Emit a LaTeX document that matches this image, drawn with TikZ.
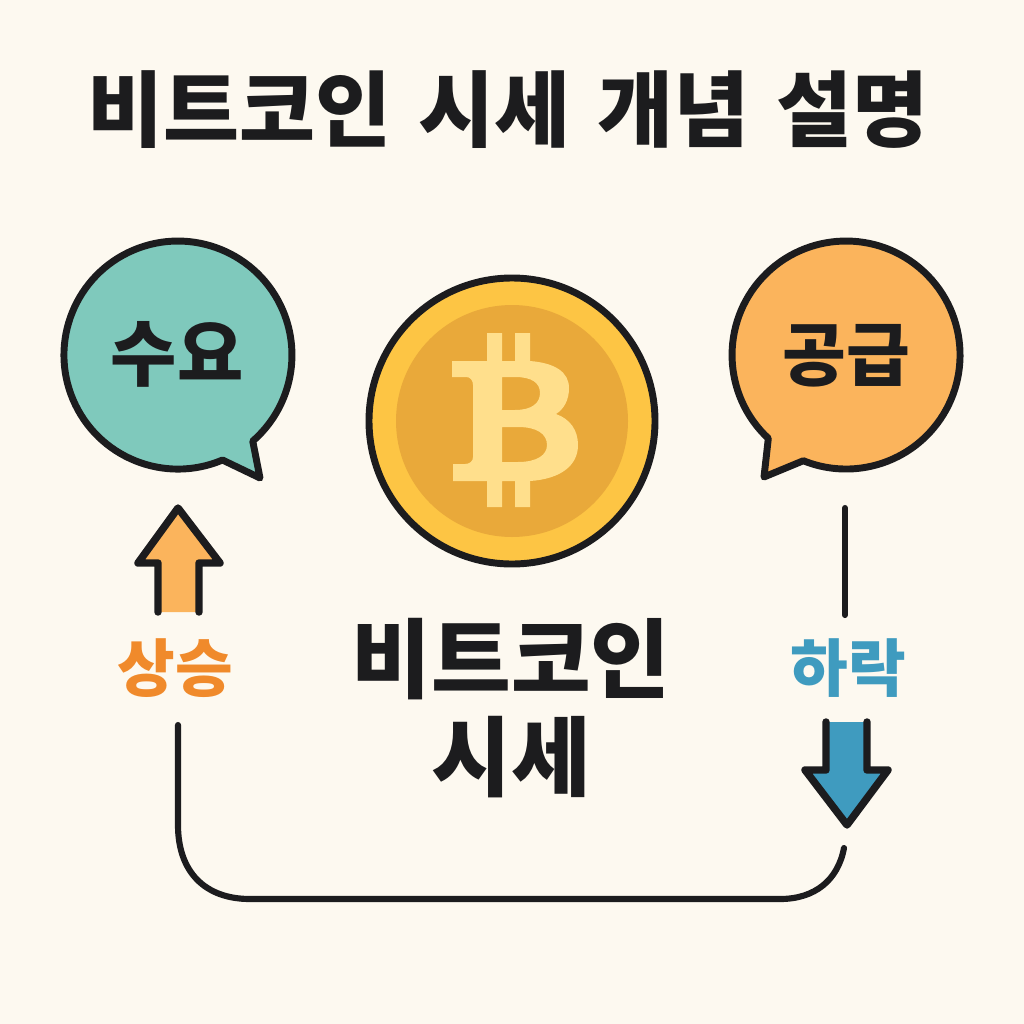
\documentclass[tikz,border=0pt]{standalone}
\usepackage{fontspec}
\setmainfont{Noto Sans CJK KR}[BoldFont={Noto Sans CJK KR Black}]
\definecolor{bgc}{HTML}{FDF9F0}
\definecolor{ink}{HTML}{1C1C1E}
\definecolor{teal}{HTML}{7FC9BC}
\definecolor{orng}{HTML}{FBB45C}
\definecolor{goldo}{HTML}{FDC544}
\definecolor{goldi}{HTML}{E9A93A}
\definecolor{btc}{HTML}{FFDF8C}
\definecolor{upc}{HTML}{F08A2B}
\definecolor{dnc}{HTML}{3F9BBF}
\tikzset{
  txt/.style={text=ink,inner sep=0pt,align=center},
  outline/.style={draw=ink,line width=5.2pt,line cap=round,line join=round},
  arrowline/.style={draw=ink,line width=5.6pt,line cap=round,line join=round},
  link/.style={draw=ink,line width=4.6pt,line cap=round},
}
\newcommand{\ko}[1]{\fontsize{#1}{#1}\selectfont\bfseries}
\begin{document}
\begin{tikzpicture}[x=0.75pt,y=-0.75pt]
\path[fill=bgc] (0,0) rectangle (1024,1024);
\useasboundingbox (0,0) rectangle (1024,1024);
% title
\node[txt,font=\ko{62}] (title) at (508,110) {비트코인\hspace{6pt} 시세\hspace{6pt} 개념\hspace{6pt} 설명};
% left bubble
\path[outline,fill=teal] (222.5,460) arc[start angle=67,end angle=409,radius=114] -- (260,478) -- cycle;
\node[txt,font=\ko{54}] (demand) at (177,354) {수요};
% right bubble
\path[outline,fill=orng] (768.3,438.4) arc[start angle=133,end angle=472,radius=114] -- (764,477) -- cycle;
\node[txt,font=\ko{52}] (supply) at (846,356) {공급};
% coin
\path[outline,fill=goldo] (512,421) circle[radius=143];
\path[fill=goldi] (512,421) circle[radius=116];
\path[fill=btc,even odd rule]
  (452,361) -- (487,361) -- (487,333) -- (502,333) -- (502,361) -- (515,361) -- (515,333) -- (530,333) -- (530,361)
  .. controls (555,363) and (569,372) .. (569,388)
  .. controls (569,400) and (564,409) .. (556,414)
  .. controls (570,419) and (578,430) .. (578,445)
  .. controls (578,466) and (560,479) .. (530,481)
  -- (530,507) -- (515,507) -- (515,481) -- (502,481) -- (502,507) -- (487,507) -- (487,481) -- (453,481) -- (453,464) -- (465,464)
  .. controls (470,464) and (473,461) .. (473,457) -- (473,385)
  .. controls (473,380) and (470,377) .. (466,377) -- (452,377) -- cycle
  (502,377) -- (502,410) -- (515,410) .. controls (532,410) and (540,403) .. (540,393)
  .. controls (540,383) and (532,377) .. (515,377) -- cycle
  (502,427) -- (502,462) -- (518,462) .. controls (537,462) and (547,455) .. (547,445)
  .. controls (547,434) and (537,427) .. (518,427) -- cycle;
% centre label
\node[txt,font=\ko{65}] (price1) at (511,659) {비트코인};
\node[txt,font=\ko{65}] (price2) at (511,757) {시세};
% up arrow
\path[fill=orng] (158,612) -- (158,563) -- (138,563) -- (178,508) -- (220,563) -- (199,563) -- (199,612) -- cycle;
\path[arrowline] (158,612) -- (158,563) -- (138,563) -- (178,508) -- (220,563) -- (199,563) -- (199,612);
\node[txt,font=\ko{47},text=upc] (up) at (175,668) {상승};
% down arrow
\path[fill=dnc] (826,722) -- (826,770) -- (805,770) -- (847,825) -- (888,770) -- (867,770) -- (867,722) -- cycle;
\path[arrowline] (826,722) -- (826,770) -- (805,770) -- (847,825) -- (888,770) -- (867,770) -- (867,722);
\node[txt,font=\ko{47},text=dnc] (down) at (848,668) {하락};
% connectors
\coordinate (s1) at (845,508);
\coordinate (s2) at (845,615);
\coordinate (l1) at (178,725);
\coordinate (l2) at (844,848);
\path[link] (s1) -- (s2);
\path[link] (l1) -- (178,825) .. controls (178,872) and (205,899) .. (250,899) -- (780,899) .. controls (815,899) and (838,880) .. (l2);
\end{tikzpicture}
\end{document}
